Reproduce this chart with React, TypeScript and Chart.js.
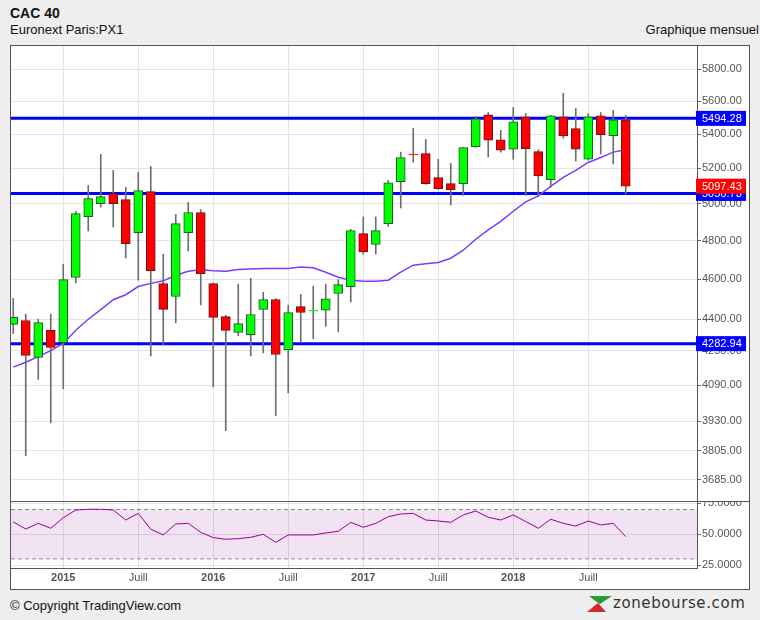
import React, { useEffect, useRef } from 'react';
import { Chart, registerables } from 'chart.js';

Chart.register(...registerables);

const FONT = '"Liberation Sans", Arial, Helvetica, sans-serif';

// Monthly candles, Sep 2014 .. Oct 2018
const MONTHS = [
  '2014-09', '2014-10', '2014-11', '2014-12',
  '2015-01', '2015-02', '2015-03', '2015-04', '2015-05', '2015-06', '2015-07', '2015-08', '2015-09', '2015-10', '2015-11', '2015-12',
  '2016-01', '2016-02', '2016-03', '2016-04', '2016-05', '2016-06', '2016-07', '2016-08', '2016-09', '2016-10', '2016-11', '2016-12',
  '2017-01', '2017-02', '2017-03', '2017-04', '2017-05', '2017-06', '2017-07', '2017-08', '2017-09', '2017-10', '2017-11', '2017-12',
  '2018-01', '2018-02', '2018-03', '2018-04', '2018-05', '2018-06', '2018-07', '2018-08', '2018-09', '2018-10',
];
const FIRST_MONTH_INDEX = -4; // months relative to Jan 2015

const OPEN = [4375, 4394, 4218, 4346, 4288, 4608, 4929, 5000, 5056, 5022, 4842, 5067, 4577, 4512, 4842, 4951, 4577, 4413, 4336, 4326, 4448, 4497, 4255, 4462, 4440, 4444, 4527, 4562, 4837, 4779, 4891, 5123, 5282, 5284, 5146, 5112, 5112, 5325, 5516, 5366, 5311, 5504, 5296, 5134, 5504, 5432, 5252, 5510, 5390, 5486];
const HIGH = [4502, 4425, 4400, 4425, 4676, 4958, 5102, 5280, 5187, 5091, 5176, 5210, 4728, 4941, 5007, 4967, 4580, 4420, 4574, 4604, 4533, 4502, 4469, 4522, 4564, 4574, 4597, 4860, 4927, 4927, 5130, 5293, 5434, 5368, 5251, 5228, 5321, 5506, 5530, 5422, 5561, 5524, 5307, 5512, 5648, 5555, 5523, 5530, 5543, 5512];
const LOW = [4331, 3784, 4117, 3924, 4074, 4580, 4851, 4981, 4872, 4708, 4595, 4225, 4276, 4382, 4745, 4470, 4083, 3890, 4320, 4225, 4239, 3955, 4056, 4291, 4306, 4366, 4339, 4485, 4728, 4729, 4876, 4976, 5235, 5108, 5080, 4992, 5046, 5321, 5264, 5293, 5251, 5046, 5037, 5092, 5376, 5241, 5246, 5282, 5224, 5053];
const CLOSE = [4409, 4227, 4384, 4265, 4597, 4945, 5028, 5039, 5000, 4784, 5072, 4643, 4448, 4891, 4951, 4628, 4409, 4346, 4379, 4423, 4497, 4232, 4433, 4433, 4444, 4501, 4572, 4853, 4740, 4853, 5117, 5261, 5278, 5112, 5084, 5078, 5319, 5492, 5364, 5305, 5474, 5313, 5155, 5510, 5388, 5311, 5504, 5396, 5486, 5097.43];
const MA = [4173, 4196, 4222, 4250, 4284, 4347, 4400, 4447, 4496, 4521, 4562, 4578, 4591, 4619, 4640, 4648, 4642, 4640, 4649, 4652, 4654, 4654, 4654, 4662, 4658, 4635, 4609, 4594, 4589, 4589, 4594, 4635, 4671, 4678, 4685, 4707, 4749, 4807, 4857, 4903, 4958, 5010, 5043, 5096, 5147, 5187, 5233, 5262, 5293, 5307];
const RSI = [60.0, 54.2, 58.8, 54.8, 63.4, 69.6, 70.2, 70.2, 69.6, 61.5, 66.9, 54.0, 49.4, 58.3, 58.8, 51.5, 47.2, 45.9, 46.4, 47.5, 49.9, 43.4, 49.4, 49.4, 49.4, 51.0, 52.4, 59.6, 55.6, 58.8, 64.2, 66.4, 66.9, 61.5, 60.7, 59.6, 65.6, 68.8, 63.7, 61.5, 65.6, 60.3, 54.8, 62.1, 58.8, 56.6, 60.7, 57.5, 58.8, 48.0];

const PRICE_TICKS = [3685, 3805, 3930, 4090, 4250, 4400, 4600, 4800, 5000, 5200, 5400, 5600, 5800];
const RSI_TICKS = [25, 50, 75];
const RSI_BAND = [70, 30];
const X_TICKS = [0, 6, 12, 18, 24, 30, 36, 42];
const X_TICK_LABELS = ['2015', 'Juill', '2016', 'Juill', '2017', 'Juill', '2018', 'Juill'];
const LEVELS = [5494.28, 5056.73, 4282.94];
const LAST_CLOSE = 5097.43;

const X_MIN = -4.18;
const X_MAX = 50.7;
const PRICE_MIN = 3599;
const PRICE_MAX = 5952;
const RSI_MIN = 22.6;
const RSI_MAX = 76.1;

const GREEN = '#00ff00';
const RED = '#ff0000';
const GREEN_EDGE = '#1f5a2a';
const RED_EDGE = '#6a1414';

const XS = MONTHS.map((_, i) => i + FIRST_MONTH_INDEX);
const isUp = (i: number) => CLOSE[i] >= OPEN[i];
const isDoji = (i: number) => Math.abs(CLOSE[i] - OPEN[i]) < OPEN[i] * 0.0015;
const xLabel = (v: number) => {
  const i = X_TICKS.indexOf(v);
  return i >= 0 ? X_TICK_LABELS[i] : '';
};

const tagPlugin = {
  id: 'levelTags',
  afterDraw(chart: any) {
    const y = chart.scales.y;
    const area = chart.chartArea;
    const ctx = chart.ctx;
    const tags = [
      ...LEVELS.map((v) => ({ v, color: '#0000ff' })),
      { v: LAST_CLOSE, color: '#ff0000' },
    ];
    ctx.save();
    ctx.font = `11px ${FONT}`;
    ctx.textBaseline = 'middle';
    ctx.textAlign = 'left';
    for (const t of tags) {
      const py = y.getPixelForValue(t.v);
      ctx.fillStyle = t.color;
      ctx.fillRect(area.right - 1, py - 7.5, 50, 15);
      ctx.fillStyle = '#ffffff';
      ctx.fillText(t.v.toFixed(2), area.right + 5, py + 0.5);
    }
    ctx.restore();
  },
};

const rsiClipPlugin = {
  id: 'rsiClip',
  afterDraw(chart: any) {
    const area = chart.chartArea;
    const ctx = chart.ctx;
    ctx.save();
    ctx.fillStyle = '#ffffff';
    ctx.fillRect(area.right + 1, area.bottom + 1, chart.width - area.right, chart.height - area.bottom);
    ctx.restore();
  },
};

export default function App() {
  const mainRef = useRef<HTMLCanvasElement | null>(null);
  const rsiRef = useRef<HTMLCanvasElement | null>(null);

  useEffect(() => {
    Chart.defaults.font.family = FONT;
    const main = new Chart(mainRef.current as HTMLCanvasElement, {
      type: 'bar',
      data: {
        datasets: [
          {
            type: 'bar',
            label: 'body',
            data: XS.map((x, i) => ({ x, y: [OPEN[i], CLOSE[i]] })) as any,
            backgroundColor: (c: any) => (isUp(c.dataIndex) ? GREEN : RED),
            borderColor: (c: any) =>
              isDoji(c.dataIndex) ? (isUp(c.dataIndex) ? GREEN : RED) : isUp(c.dataIndex) ? GREEN_EDGE : RED_EDGE,
            borderWidth: 1,
            borderSkipped: false,
            barThickness: 9,
            maxBarThickness: 9,
            grouped: false,
            order: 0,
          } as any,
          {
            type: 'bar',
            label: 'wick',
            data: XS.map((x, i) => ({ x, y: [LOW[i], HIGH[i]] })) as any,
            backgroundColor: '#6e6e6e',
            borderWidth: 0,
            barThickness: 1,
            maxBarThickness: 1,
            grouped: false,
            order: 1,
          } as any,
          {
            type: 'line',
            label: 'ma',
            data: XS.map((x, i) => ({ x, y: MA[i] })) as any,
            borderColor: '#7a3cff',
            borderWidth: 1.5,
            pointRadius: 0,
            tension: 0,
            order: 2,
          } as any,
          ...LEVELS.map(
            (v) =>
              ({
                type: 'line',
                label: 'level',
                data: [
                  { x: X_MIN, y: v },
                  { x: X_MAX, y: v },
                ],
                borderColor: '#0000ff',
                borderWidth: 3,
                pointRadius: 0,
                order: 3,
              }) as any
          ),
        ],
      },
      options: {
        animation: false,
        responsive: false,
        maintainAspectRatio: false,
        layout: { padding: 0 },
        plugins: { legend: { display: false }, tooltip: { enabled: false } },
        scales: {
          x: {
            type: 'linear',
            min: X_MIN,
            max: X_MAX,
            offset: false,
            afterBuildTicks: (axis: any) => {
              axis.ticks = X_TICKS.map((v) => ({ value: v }));
            },
            afterFit: (axis: any) => {
              axis.height = 0;
              axis.paddingLeft = 0;
              axis.paddingRight = 0;
            },
            ticks: { display: false },
            grid: { color: '#e4e4e4', drawTicks: false, offset: false },
            border: { display: false },
          },
          y: {
            type: 'logarithmic',
            position: 'right',
            min: PRICE_MIN,
            max: PRICE_MAX,
            afterBuildTicks: (axis: any) => {
              axis.ticks = PRICE_TICKS.map((v) => ({ value: v }));
            },
            afterFit: (axis: any) => {
              axis.width = 52;
              axis.paddingTop = 0;
              axis.paddingBottom = 0;
            },
            ticks: {
              callback: (v: any) => Number(v).toFixed(2),
              font: { size: 11, family: FONT },
              color: '#555555',
              padding: 1,
              autoSkip: false,
            },
            grid: { color: '#e4e4e4', tickLength: 4, tickColor: '#666666' },
            border: { display: true, color: '#555555', width: 1 },
          },
        },
      } as any,
      plugins: [tagPlugin],
    });

    const rsi = new Chart(rsiRef.current as HTMLCanvasElement, {
      type: 'line',
      data: {
        datasets: [
          {
            label: 'rsi',
            data: XS.map((x, i) => ({ x, y: RSI[i] })),
            borderColor: '#990099',
            borderWidth: 1,
            pointRadius: 0,
            tension: 0,
            fill: false,
            order: 0,
          },
          {
            label: 'band-high',
            data: [
              { x: X_MIN, y: RSI_BAND[0] },
              { x: X_MAX, y: RSI_BAND[0] },
            ],
            borderColor: '#8a8a8a',
            borderWidth: 1,
            borderDash: [4, 3],
            pointRadius: 0,
            fill: '+1',
            backgroundColor: '#f1e3f1',
            order: 1,
          },
          {
            label: 'band-low',
            data: [
              { x: X_MIN, y: RSI_BAND[1] },
              { x: X_MAX, y: RSI_BAND[1] },
            ],
            borderColor: '#8a8a8a',
            borderWidth: 1,
            borderDash: [4, 3],
            pointRadius: 0,
            fill: false,
            order: 1,
          },
        ],
      },
      options: {
        animation: false,
        responsive: false,
        maintainAspectRatio: false,
        layout: { padding: 0 },
        plugins: {
          legend: { display: false },
          tooltip: { enabled: false },
          filler: { drawTime: 'beforeDraw' },
        },
        scales: {
          x: {
            type: 'linear',
            min: X_MIN,
            max: X_MAX,
            offset: false,
            afterBuildTicks: (axis: any) => {
              axis.ticks = X_TICKS.map((v) => ({ value: v }));
            },
            afterFit: (axis: any) => {
              axis.height = 21;
              axis.paddingLeft = 0;
              axis.paddingRight = 0;
            },
            ticks: {
              callback: (v: any) => xLabel(Number(v)),
              font: (c: any) => ({
                size: 11,
                family: FONT,
                weight: /^\d{4}$/.test(xLabel(Number(c.tick && c.tick.value))) ? 'bold' : 'normal',
              }),
              color: '#555555',
              padding: 3,
              maxRotation: 0,
              autoSkip: false,
            },
            grid: { color: 'rgba(0,0,0,0.1)', drawTicks: false, offset: false },
            border: { display: true, color: '#555555', width: 1 },
          },
          y: {
            type: 'linear',
            position: 'right',
            min: RSI_MIN,
            max: RSI_MAX,
            afterBuildTicks: (axis: any) => {
              axis.ticks = RSI_TICKS.map((v) => ({ value: v }));
            },
            afterFit: (axis: any) => {
              axis.width = 52;
              axis.paddingTop = 0;
              axis.paddingBottom = 0;
            },
            ticks: {
              callback: (v: any) => Number(v).toFixed(4),
              font: { size: 11, family: FONT },
              color: '#555555',
              padding: 1,
              autoSkip: false,
            },
            grid: { color: 'rgba(0,0,0,0.1)', tickLength: 4, tickColor: '#666666' },
            border: { display: true, color: '#555555', width: 1 },
          },
        },
      } as any,
      plugins: [rsiClipPlugin],
    });

    return () => {
      main.destroy();
      rsi.destroy();
    };
  }, []);

  return (
    <div
      style={{
        position: 'fixed',
        left: 0,
        top: 0,
        width: 760,
        height: 620,
        background: '#eeeeee',
        fontFamily: FONT,
        color: '#1a1a1a',
        overflow: 'hidden',
      }}
    >
      <div style={{ position: 'absolute', left: 10, top: 5, fontSize: 14, lineHeight: '16px', fontWeight: 'bold', color: '#111' }}>
        CAC 40
      </div>
      <div style={{ position: 'absolute', left: 10, top: 22, fontSize: 13, lineHeight: '15px', color: '#111' }}>
        Euronext Paris:PX1
      </div>
      <div style={{ position: 'absolute', right: 1, top: 22, fontSize: 13, lineHeight: '15px', color: '#111' }}>
        Graphique mensuel
      </div>

      <div
        style={{
          position: 'absolute',
          left: 10,
          top: 45,
          width: 740,
          height: 545,
          boxSizing: 'border-box',
          border: '1px solid #555555',
          background: '#ffffff',
        }}
      >
        <canvas
          ref={mainRef}
          width={738}
          height={455}
          style={{ position: 'absolute', left: 0, top: 0, width: 738, height: 455 }}
        />
        <div style={{ position: 'absolute', left: 0, top: 455, width: 738, height: 1, background: '#555555' }} />
        <canvas
          ref={rsiRef}
          width={738}
          height={87}
          style={{ position: 'absolute', left: 0, top: 456, width: 738, height: 87 }}
        />
      </div>

      <div style={{ position: 'absolute', left: 10, top: 598, fontSize: 13, lineHeight: '15px', color: '#111' }}>
        © Copyright TradingView.com
      </div>
      <div style={{ position: 'absolute', left: 587, top: 595, display: 'flex', alignItems: 'center' }}>
        <svg width="25" height="17" viewBox="0 0 25 17">
          <polygon points="2,1 25,1 13,9 7,5" fill="#2a9a3a" />
          <polygon points="0,17 19,17 11,8" fill="#d62828" />
        </svg>
        <span
          style={{
            marginLeft: 1,
            fontFamily: '"DejaVu Sans", Verdana, sans-serif',
            fontSize: 15,
            letterSpacing: 0.6,
            color: '#333333',
            lineHeight: '17px',
          }}
        >
          zonebourse.com
        </span>
      </div>
    </div>
  );
}
